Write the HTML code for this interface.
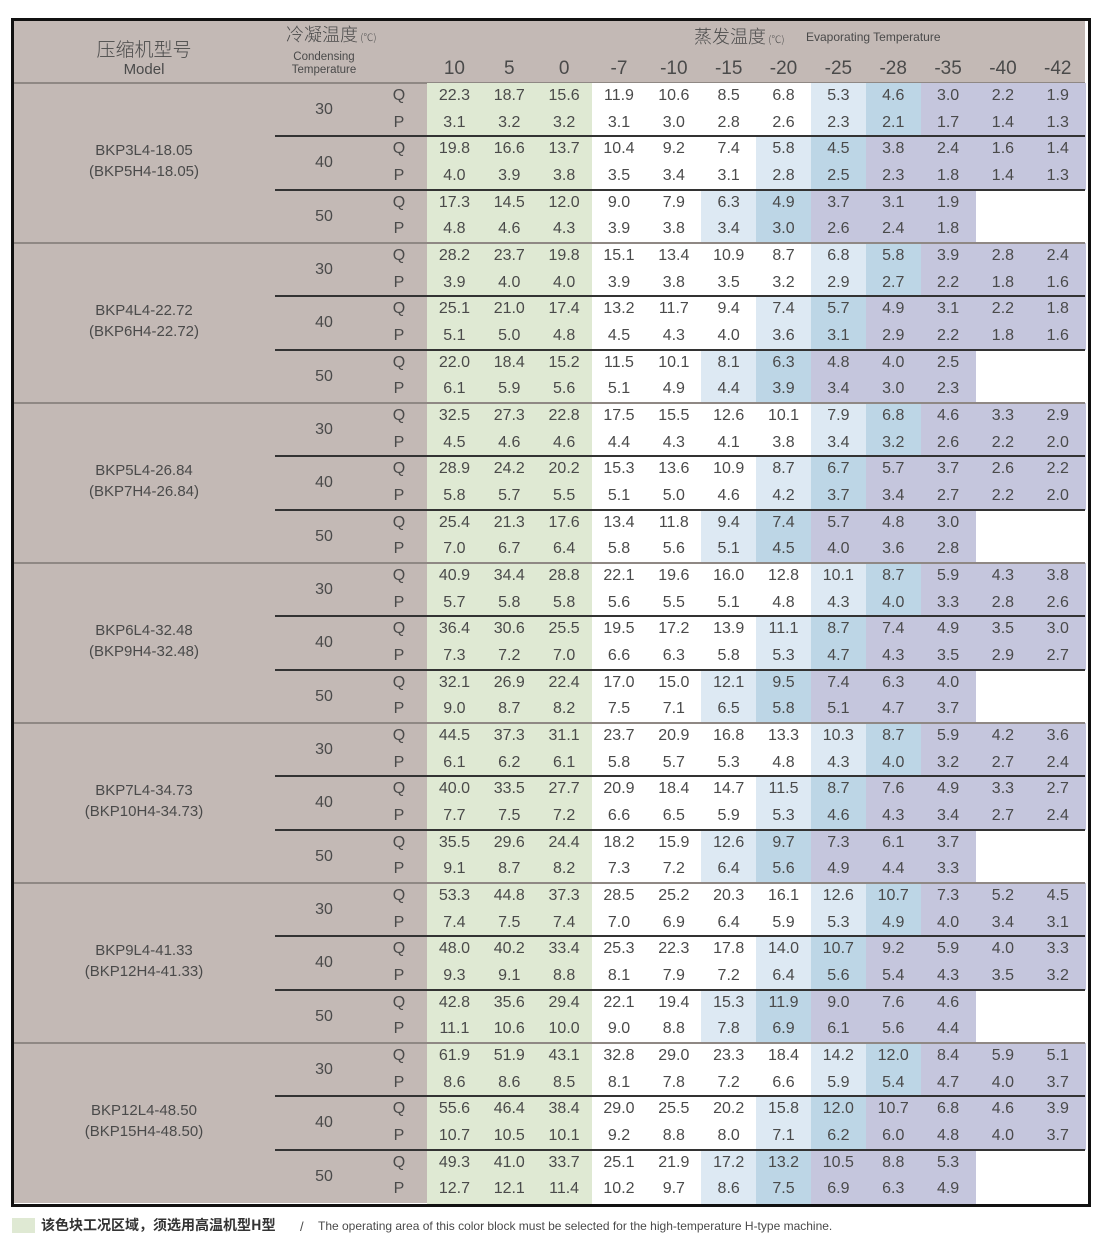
<!DOCTYPE html>
<html><head><meta charset="utf-8">
<style>
body{margin:0;background:#fff;}
#wrap{position:relative;width:1120px;height:1233px;overflow:hidden;font-family:"Liberation Sans Narrow","Liberation Sans","Noto Sans CJK SC",sans-serif;color:#4a4a4a;}
.abs{position:absolute;}
.t{position:absolute;text-align:center;white-space:nowrap;line-height:1;}
</style></head>
<body>
<div id="wrap">
  <div class="abs" style="left:11px;top:18px;width:1074px;height:1183px;border:3px solid #111;background:#fff;"></div>
  <div class="abs" style="left:14px;top:21px;width:1071px;height:62px;background:#c3b9b5;"></div>
  <div class="abs" style="left:14px;top:83px;width:413px;height:1120px;background:#c3b9b5;"></div>
  <div class="abs" style="left:14px;top:82px;width:1071px;height:2px;background:#8f8884;"></div>

  <div class="t" style="left:64px;top:39px;width:160px;font-size:19px;font-family:'Noto Sans CJK SC',sans-serif;font-weight:300;">压缩机型号</div>
  <div class="t" style="left:64px;top:62px;width:160px;font-size:15px;">Model</div>
  <div class="t" style="left:286px;top:25px;text-align:left;font-size:18px;font-family:'Noto Sans CJK SC',sans-serif;font-weight:300;">冷凝温度<span style="font-size:10px;"> (℃)</span></div>
  <div class="t" style="left:264px;top:51px;width:120px;font-size:11.5px;line-height:13px;">Condensing<br>Temperature</div>
  <div class="t" style="left:694px;top:27px;text-align:left;font-size:18px;font-family:'Noto Sans CJK SC',sans-serif;font-weight:300;">蒸发温度<span style="font-size:10px;"> (℃)</span></div>
  <div class="t" style="left:806px;top:31px;text-align:left;font-size:12px;">Evaporating Temperature</div>

  <div class="abs" style="left:12px;top:1218px;width:23px;height:15px;background:#dfe9d3;"></div>
  <div class="t" style="left:41px;top:1218px;text-align:left;font-size:14px;font-weight:bold;color:#333;font-family:'Noto Sans CJK SC',sans-serif;">该色块工况区域，须选用高温机型H型</div>
  <div class="t" style="left:300px;top:1220px;font-size:13px;">/</div>
  <div class="t" style="left:318px;top:1220px;text-align:left;font-size:12px;">The operating area of this color block must be selected for the high-temperature H-type machine.</div>
</div>
<script>
const evapTemps = ["10","5","0","-7","-10","-15","-20","-25","-28","-35","-40","-42"];
const condTemps = ["30","40","50"];
const modelNames = ["BKP3L4-18.05","BKP4L4-22.72","BKP5L4-26.84","BKP6L4-32.48","BKP7L4-34.73","BKP9L4-41.33","BKP12L4-48.50"];
const altNames = ["(BKP5H4-18.05)","(BKP6H4-22.72)","(BKP7H4-26.84)","(BKP9H4-32.48)","(BKP10H4-34.73)","(BKP12H4-41.33)","(BKP15H4-48.50)"];
const qValues = [
 [[22.3,18.7,15.6,11.9,10.6,8.5,6.8,5.3,4.6,3.0,2.2,1.9],[19.8,16.6,13.7,10.4,9.2,7.4,5.8,4.5,3.8,2.4,1.6,1.4],[17.3,14.5,12.0,9.0,7.9,6.3,4.9,3.7,3.1,1.9,null,null]],
 [[28.2,23.7,19.8,15.1,13.4,10.9,8.7,6.8,5.8,3.9,2.8,2.4],[25.1,21.0,17.4,13.2,11.7,9.4,7.4,5.7,4.9,3.1,2.2,1.8],[22.0,18.4,15.2,11.5,10.1,8.1,6.3,4.8,4.0,2.5,null,null]],
 [[32.5,27.3,22.8,17.5,15.5,12.6,10.1,7.9,6.8,4.6,3.3,2.9],[28.9,24.2,20.2,15.3,13.6,10.9,8.7,6.7,5.7,3.7,2.6,2.2],[25.4,21.3,17.6,13.4,11.8,9.4,7.4,5.7,4.8,3.0,null,null]],
 [[40.9,34.4,28.8,22.1,19.6,16.0,12.8,10.1,8.7,5.9,4.3,3.8],[36.4,30.6,25.5,19.5,17.2,13.9,11.1,8.7,7.4,4.9,3.5,3.0],[32.1,26.9,22.4,17.0,15.0,12.1,9.5,7.4,6.3,4.0,null,null]],
 [[44.5,37.3,31.1,23.7,20.9,16.8,13.3,10.3,8.7,5.9,4.2,3.6],[40.0,33.5,27.7,20.9,18.4,14.7,11.5,8.7,7.6,4.9,3.3,2.7],[35.5,29.6,24.4,18.2,15.9,12.6,9.7,7.3,6.1,3.7,null,null]],
 [[53.3,44.8,37.3,28.5,25.2,20.3,16.1,12.6,10.7,7.3,5.2,4.5],[48.0,40.2,33.4,25.3,22.3,17.8,14.0,10.7,9.2,5.9,4.0,3.3],[42.8,35.6,29.4,22.1,19.4,15.3,11.9,9.0,7.6,4.6,null,null]],
 [[61.9,51.9,43.1,32.8,29.0,23.3,18.4,14.2,12.0,8.4,5.9,5.1],[55.6,46.4,38.4,29.0,25.5,20.2,15.8,12.0,10.7,6.8,4.6,3.9],[49.3,41.0,33.7,25.1,21.9,17.2,13.2,10.5,8.8,5.3,null,null]]
];
const pValues = [
 [[3.1,3.2,3.2,3.1,3.0,2.8,2.6,2.3,2.1,1.7,1.4,1.3],[4.0,3.9,3.8,3.5,3.4,3.1,2.8,2.5,2.3,1.8,1.4,1.3],[4.8,4.6,4.3,3.9,3.8,3.4,3.0,2.6,2.4,1.8,null,null]],
 [[3.9,4.0,4.0,3.9,3.8,3.5,3.2,2.9,2.7,2.2,1.8,1.6],[5.1,5.0,4.8,4.5,4.3,4.0,3.6,3.1,2.9,2.2,1.8,1.6],[6.1,5.9,5.6,5.1,4.9,4.4,3.9,3.4,3.0,2.3,null,null]],
 [[4.5,4.6,4.6,4.4,4.3,4.1,3.8,3.4,3.2,2.6,2.2,2.0],[5.8,5.7,5.5,5.1,5.0,4.6,4.2,3.7,3.4,2.7,2.2,2.0],[7.0,6.7,6.4,5.8,5.6,5.1,4.5,4.0,3.6,2.8,null,null]],
 [[5.7,5.8,5.8,5.6,5.5,5.1,4.8,4.3,4.0,3.3,2.8,2.6],[7.3,7.2,7.0,6.6,6.3,5.8,5.3,4.7,4.3,3.5,2.9,2.7],[9.0,8.7,8.2,7.5,7.1,6.5,5.8,5.1,4.7,3.7,null,null]],
 [[6.1,6.2,6.1,5.8,5.7,5.3,4.8,4.3,4.0,3.2,2.7,2.4],[7.7,7.5,7.2,6.6,6.5,5.9,5.3,4.6,4.3,3.4,2.7,2.4],[9.1,8.7,8.2,7.3,7.2,6.4,5.6,4.9,4.4,3.3,null,null]],
 [[7.4,7.5,7.4,7.0,6.9,6.4,5.9,5.3,4.9,4.0,3.4,3.1],[9.3,9.1,8.8,8.1,7.9,7.2,6.4,5.6,5.4,4.3,3.5,3.2],[11.1,10.6,10.0,9.0,8.8,7.8,6.9,6.1,5.6,4.4,null,null]],
 [[8.6,8.6,8.5,8.1,7.8,7.2,6.6,5.9,5.4,4.7,4.0,3.7],[10.7,10.5,10.1,9.2,8.8,8.0,7.1,6.2,6.0,4.8,4.0,3.7],[12.7,12.1,11.4,10.2,9.7,8.6,7.5,6.9,6.3,4.9,null,null]]
];
// zone index per condensing temp per column: 0 green,1 white,2 light blue,3 blue,4 lavender
const zoneMap = [
 [0,0,0,1,1,1,1,2,3,4,4,4],
 [0,0,0,1,1,1,2,3,4,4,4,4],
 [0,0,0,1,1,2,3,4,4,4,1,1]
];
const zoneColors = ["#dfe9d3","#ffffff","#dde9f3","#bdd6e6","#c5c6dd"];

const wrap = document.getElementById('wrap');
const X0 = 427, CW = 54.85, Y0 = 83, ROW = 160/6;
const colX = i => X0 + i*CW;
const rowY = (m, c, r) => Y0 + m*160 + c*(160/3) + r*ROW;
function mk(tag, css, txt){
  const e = document.createElement(tag);
  e.style.cssText = css;
  if (txt !== undefined) e.textContent = txt;
  wrap.appendChild(e);
  return e;
}
evapTemps.forEach((t, i) => {
  const e = mk('div', `left:${colX(i)}px;top:59px;width:${CW}px;font-size:19px;`, t);
  e.className = 't';
  
  
});
modelNames.forEach((name, m) => {
  condTemps.forEach((ct, c) => {
    zoneMap[c].forEach((z, i) => {
      const b = mk('div', `left:${colX(i)}px;top:${rowY(m,c,0)}px;width:${CW+0.6}px;height:${160/3+0.6}px;background:${zoneColors[z]};`);
      b.className = 'abs';
      
      
    });
  });
});
modelNames.forEach((name, m) => {
  const yTop = Y0 + m*160;
  const n = mk('div', `left:64px;top:${yTop+57}px;width:160px;font-size:15px;line-height:21px;`, name);
  n.className = 't';
  n.innerHTML = name + '<br>' + altNames[m];
  
  
  if (m > 0) {
    const l = mk('div', `left:14px;top:${yTop-1}px;width:1071px;height:2px;background:#8f8884;`);
    l.className = 'abs';
    
    
  }
  condTemps.forEach((ct, c) => {
    const sy = rowY(m, c, 0);
    if (c > 0) {
      const l = mk('div', `left:275px;top:${sy-1}px;width:810px;height:2px;background:#333;`);
      l.className = 'abs';
      
      
    }
    const ctl = mk('div', `left:284px;top:${sy+19}px;width:80px;font-size:16px;`, ct);
    ctl.className = 't';
    
    
    ['Q','P'].forEach((lab, r) => {
      const y = rowY(m, c, r) + 5;
      const ql = mk('div', `left:384px;top:${y}px;width:30px;font-size:16px;`, lab);
      ql.className = 't';
      
      
      const vals = r === 0 ? qValues[m][c] : pValues[m][c];
      vals.forEach((v, i) => {
        if (v === null) return;
        const d = mk('div', `left:${colX(i)}px;top:${y}px;width:${CW}px;font-size:16px;`, v.toFixed(1));
        d.className = 't';
        
        
      });
    });
  });
});
</script>
</body></html>
